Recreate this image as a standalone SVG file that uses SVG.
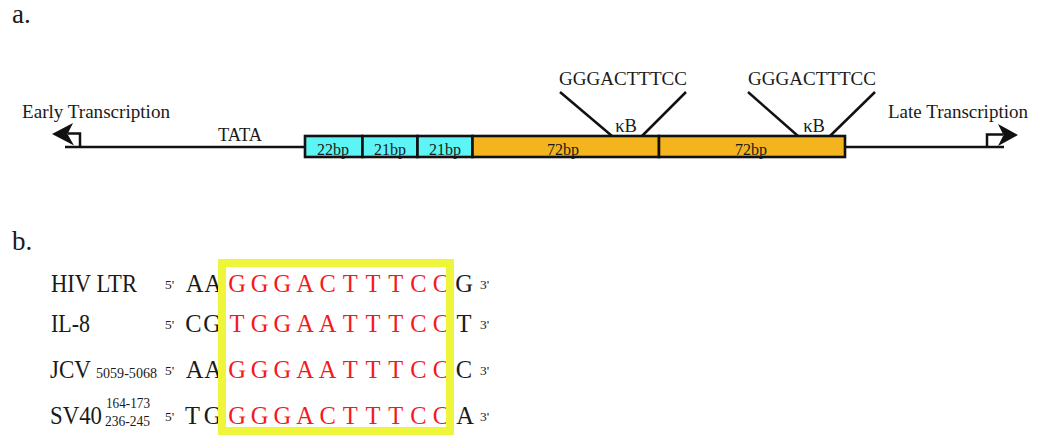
<svg xmlns="http://www.w3.org/2000/svg" width="1039" height="435" viewBox="0 0 1039 435">
  <style>
    text { font-family: "Liberation Serif", "Times New Roman", serif; fill: #1a1a1a; }
    .panel { font-size: 27px; }
    .lbl { font-size: 18.5px; }
    .bp { font-size: 16px; text-anchor: middle; }
    .line { stroke: #111; stroke-width: 2.5; fill: none; }
    .box { stroke: #111; stroke-width: 2.6; }
    .cyan { fill: #5cf4f4; }
    .orange { fill: #f4b41e; }
    .name { font-size: 24.5px; }
    .sub { font-size: 15px; }
    .end { font-size: 13.5px; }
    .nt { font-size: 24.5px; text-anchor: middle; }
    .kb { fill: #f5191d; }
    .frame { fill: none; stroke: #eef53a; stroke-width: 8; }
  </style>

  <!-- a. promoter map -->
  <text class="panel" x="12" y="23">a.</text>

  <g id="backbone">
    <line class="line" x1="65" y1="147" x2="305" y2="147"/>
    <line class="line" x1="845" y1="147" x2="1004" y2="147"/>
    <text class="lbl" x="218" y="141" textLength="44" lengthAdjust="spacingAndGlyphs">TATA</text>
  </g>

  <g id="early-start">
    <path class="line" d="M80,147 V133.5 H68"/>
    <path d="M52,134 L73,123 L67.5,134 L74,145.5 Z" fill="#111"/>
    <text class="lbl" x="22" y="118" textLength="148" lengthAdjust="spacingAndGlyphs">Early Transcription</text>
  </g>

  <g id="late-start">
    <path class="line" d="M987,147 V134.5 H1003"/>
    <path d="M1018,135 L998,124 L1003.5,135 L998,146 Z" fill="#111"/>
    <text class="lbl" x="888" y="118" textLength="140" lengthAdjust="spacingAndGlyphs">Late Transcription</text>
  </g>

  <g id="repeat-22bp">
    <rect class="box cyan" x="305" y="136" width="57.5" height="21"/>
    <text class="bp" x="333" y="155">22bp</text>
  </g>
  <g id="repeat-21bp-1">
    <rect class="box cyan" x="362.5" y="136" width="55" height="21"/>
    <text class="bp" x="390" y="155">21bp</text>
  </g>
  <g id="repeat-21bp-2">
    <rect class="box cyan" x="417.5" y="136" width="55" height="21"/>
    <text class="bp" x="445" y="155">21bp</text>
  </g>
  <g id="enhancer-72bp-1">
    <rect class="box orange" x="472.5" y="136" width="186.5" height="21"/>
    <text class="bp" x="563" y="155">72bp</text>
    <text class="lbl" x="626" y="132" text-anchor="middle">κB</text>
    <text class="lbl" x="559" y="85" textLength="128" lengthAdjust="spacingAndGlyphs">GGGACTTTCC</text>
  </g>
  <g id="enhancer-72bp-2">
    <rect class="box orange" x="659" y="136" width="186" height="21"/>
    <text class="bp" x="751" y="155">72bp</text>
    <text class="lbl" x="814" y="132" text-anchor="middle">κB</text>
    <text class="lbl" x="748" y="85" textLength="128" lengthAdjust="spacingAndGlyphs">GGGACTTTCC</text>
  </g>

  <!-- callout lines from each κB site to its sequence -->
  <g id="connectors">
    <line class="line" x1="560" y1="92" x2="612" y2="136"/>
    <line class="line" x1="686" y1="92" x2="642" y2="136"/>
    <line class="line" x1="748" y1="92" x2="798" y2="136"/>
    <line class="line" x1="875" y1="92" x2="830" y2="136"/>
  </g>

  <!-- b. κB site alignment -->
  <text class="panel" x="12" y="250">b.</text>

  <g id="row-hiv">
    <text class="name" x="51" y="292" textLength="86" lengthAdjust="spacingAndGlyphs">HIV LTR</text>
    <text class="end" x="165" y="289">5'</text>
    <text class="nt" y="292"><tspan x="194.5">A</tspan><tspan x="213">A</tspan></text>
    <text class="nt kb" y="292"><tspan x="237">G</tspan><tspan x="259.7">G</tspan><tspan x="282.3">G</tspan><tspan x="305">A</tspan><tspan x="327.7">C</tspan><tspan x="350.3">T</tspan><tspan x="373">T</tspan><tspan x="395.7">T</tspan><tspan x="418.3">C</tspan><tspan x="441">C</tspan></text>
    <text class="nt" x="464" y="292">G</text>
    <text class="end" x="480" y="289">3'</text>
  </g>

  <g id="row-il8">
    <text class="name" x="51" y="332" textLength="39" lengthAdjust="spacingAndGlyphs">IL-8</text>
    <text class="end" x="165" y="329">5'</text>
    <text class="nt" y="332"><tspan x="193.5">C</tspan><tspan x="212">G</tspan></text>
    <text class="nt kb" y="332"><tspan x="237">T</tspan><tspan x="259.7">G</tspan><tspan x="282.3">G</tspan><tspan x="305">A</tspan><tspan x="327.7">A</tspan><tspan x="350.3">T</tspan><tspan x="373">T</tspan><tspan x="395.7">T</tspan><tspan x="418.3">C</tspan><tspan x="441">C</tspan></text>
    <text class="nt" x="464" y="332">T</text>
    <text class="end" x="480" y="329">3'</text>
  </g>

  <g id="row-jcv">
    <text class="name" x="50" y="378" textLength="41" lengthAdjust="spacingAndGlyphs">JCV</text>
    <text class="sub" x="96" y="378" textLength="61" lengthAdjust="spacingAndGlyphs">5059-5068</text>
    <text class="end" x="165" y="375">5'</text>
    <text class="nt" y="378"><tspan x="194.5">A</tspan><tspan x="213">A</tspan></text>
    <text class="nt kb" y="378"><tspan x="237">G</tspan><tspan x="259.7">G</tspan><tspan x="282.3">G</tspan><tspan x="305">A</tspan><tspan x="327.7">A</tspan><tspan x="350.3">T</tspan><tspan x="373">T</tspan><tspan x="395.7">T</tspan><tspan x="418.3">C</tspan><tspan x="441">C</tspan></text>
    <text class="nt" x="464" y="378">C</text>
    <text class="end" x="480" y="375">3'</text>
  </g>

  <g id="row-sv40">
    <text class="name" x="50" y="424" textLength="52" lengthAdjust="spacingAndGlyphs">SV40</text>
    <text class="sub" x="106" y="408" textLength="44" lengthAdjust="spacingAndGlyphs">164-173</text>
    <text class="sub" x="105" y="426" textLength="45" lengthAdjust="spacingAndGlyphs">236-245</text>
    <text class="end" x="165" y="421">5'</text>
    <text class="nt" y="424"><tspan x="192.5">T</tspan><tspan x="212.5">G</tspan></text>
    <text class="nt kb" y="424"><tspan x="237">G</tspan><tspan x="259.7">G</tspan><tspan x="282.3">G</tspan><tspan x="305">A</tspan><tspan x="327.7">C</tspan><tspan x="350.3">T</tspan><tspan x="373">T</tspan><tspan x="395.7">T</tspan><tspan x="418.3">C</tspan><tspan x="441">C</tspan></text>
    <text class="nt" x="465" y="424">A</text>
    <text class="end" x="480" y="421">3'</text>
  </g>

  <g id="consensus-frame">
    <rect class="frame" x="222" y="263" width="228" height="168"/>
  </g>
</svg>
